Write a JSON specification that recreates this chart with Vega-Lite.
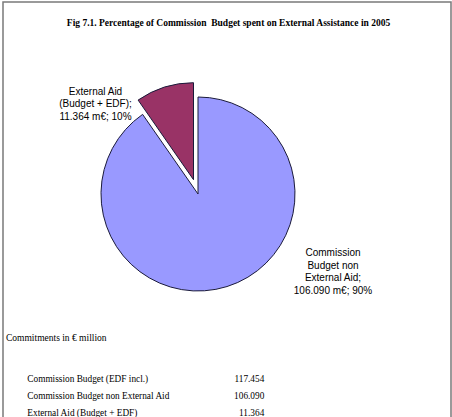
{
  "$schema": "https://vega.github.io/schema/vega-lite/v6.json",
  "width": 448,
  "height": 420,
  "autosize": "none",
  "padding": {"left": 3, "top": 2, "right": 1, "bottom": 0},
  "background": "white",
  "config": {
    "view": {"stroke": "#7a7a7a", "strokeWidth": 1.5},
    "locale": {"number": {"decimal": ",", "thousands": ".", "grouping": [3], "currency": ["€", ""]}}
  },
  "title": {
    "text": "Fig 7.1. Percentage of Commission \u00a0Budget spent on External Assistance in 2005",
    "font": "Liberation Serif",
    "fontSize": 9.5,
    "fontWeight": "bold",
    "color": "#000000",
    "anchor": "middle",
    "offset": -25.5,
    "dx": 1.5
  },
  "datasets": {
    "budget": [
      {"cat": "total", "idx": 0, "label": "Commission Budget (EDF incl.)", "value": 117454, "pieLabel": null},
      {"cat": "main", "idx": 1, "label": "Commission Budget non External Aid", "value": 106090, "pieLabel": ["Commission", "Budget non", "External Aid;", "106.090 m€; 90%"]},
      {"cat": "ext", "idx": 2, "label": "External Aid (Budget + EDF)", "value": 11364, "pieLabel": ["External Aid", "(Budget + EDF);", "11.364 m€; 10%"]}
    ]
  },
  "data": {"name": "budget"},
  "layer": [
    {
      "transform": [{"filter": "datum.idx > 0"}],
      "mark": {"type": "arc", "outerRadius": 97, "stroke": "#1a1a3a", "strokeWidth": 1, "xOffset": -29, "yOffset": -18},
      "encoding": {
        "theta": {"field": "value", "type": "quantitative", "stack": true},
        "order": {"field": "idx", "type": "quantitative"},
        "color": {"field": "cat", "type": "nominal", "scale": {"domain": ["main", "ext"], "range": ["#9999FF", "#993366"]}, "legend": null},
        "opacity": {"condition": {"test": "datum.cat === 'ext'", "value": 0}, "value": 1}
      }
    },
    {
      "transform": [{"filter": "datum.idx > 0"}],
      "mark": {"type": "arc", "outerRadius": 97, "stroke": "#1a1a3a", "strokeWidth": 1, "xOffset": -33.5, "yOffset": -32.3},
      "encoding": {
        "theta": {"field": "value", "type": "quantitative", "stack": true},
        "order": {"field": "idx", "type": "quantitative"},
        "color": {"field": "cat", "type": "nominal", "legend": null},
        "opacity": {"condition": {"test": "datum.cat === 'ext'", "value": 1}, "value": 0}
      }
    },
    {
      "transform": [{"filter": "datum.cat === 'ext'"}],
      "mark": {"type": "text", "font": "Liberation Sans", "fontSize": 10, "lineHeight": 12.2, "align": "center", "baseline": "middle", "color": "#000000", "xOffset": -131.5, "yOffset": -119.7},
      "encoding": {"text": {"field": "pieLabel"}}
    },
    {
      "transform": [{"filter": "datum.cat === 'main'"}],
      "mark": {"type": "text", "font": "Liberation Sans", "fontSize": 10, "lineHeight": 12.7, "align": "center", "baseline": "middle", "color": "#000000", "xOffset": 106, "yOffset": 41},
      "encoding": {"text": {"field": "pieLabel"}}
    },
    {
      "mark": {"type": "text", "font": "Liberation Serif", "fontSize": 9.3, "align": "left", "baseline": "middle", "color": "#000000"},
      "encoding": {
        "y": {"field": "label", "type": "ordinal", "sort": {"field": "idx", "op": "min"}, "scale": {"type": "point", "range": [377, 411], "padding": 0}, "axis": null},
        "x": {"value": 24.3},
        "text": {"field": "label"}
      }
    },
    {
      "mark": {"type": "text", "font": "Liberation Serif", "fontSize": 9.3, "align": "right", "baseline": "middle", "color": "#000000"},
      "encoding": {
        "y": {"field": "label", "type": "ordinal", "sort": {"field": "idx", "op": "min"}, "axis": null},
        "x": {"value": 261.3},
        "text": {"field": "value", "type": "quantitative", "format": ",d"}
      }
    },
    {
      "data": {"values": [{"note": "Commitments in € million"}]},
      "mark": {"type": "text", "font": "Liberation Serif", "fontSize": 9.5, "align": "left", "baseline": "middle", "color": "#000000"},
      "encoding": {
        "x": {"value": 3},
        "y": {"value": 335.7},
        "text": {"field": "note"}
      }
    }
  ]
}
